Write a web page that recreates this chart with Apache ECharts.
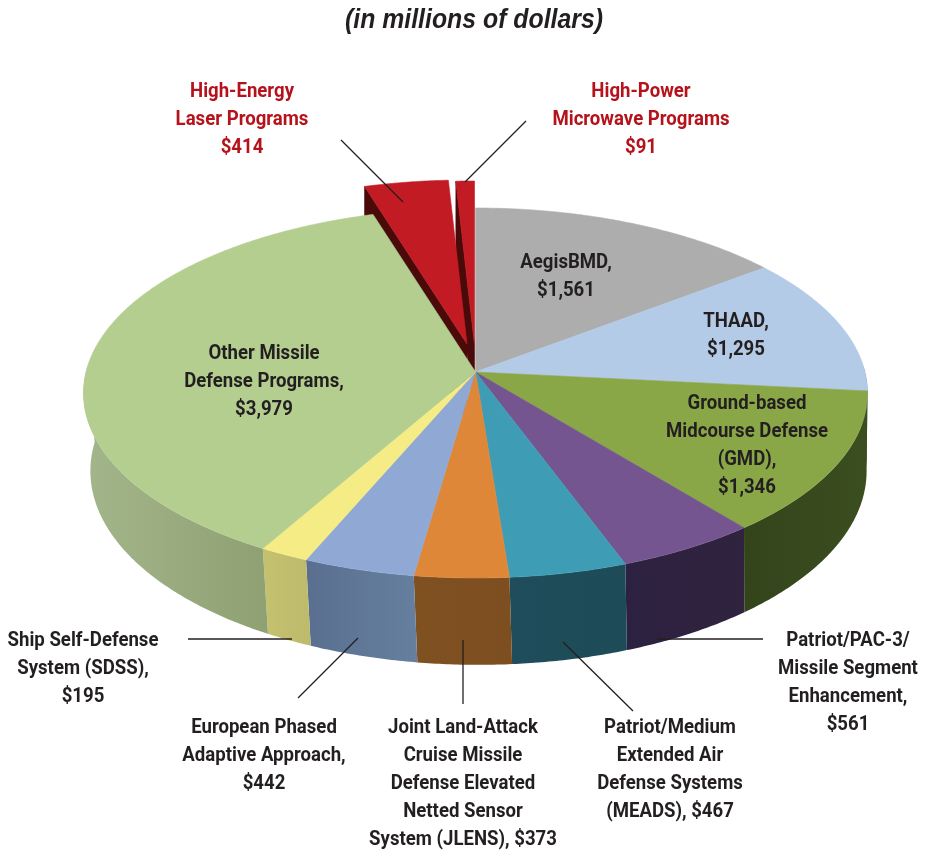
<!DOCTYPE html>
<html>
<head>
<meta charset="utf-8">
<style>html,body{margin:0;padding:0;background:#fff}#c{width:926px;height:851px}</style>
<script src="https://cdn.jsdelivr.net/npm/echarts@6/dist/echarts.min.js"></script>
</head>
<body>
<div id="c"></div>
<script>
// ---- data, clockwise from 12 o'clock ----
var categories = ['AegisBMD','THAAD','Ground-based Midcourse Defense (GMD)','Patriot/PAC-3/Missile Segment Enhancement','Patriot/Medium Extended Air Defense Systems (MEADS)','Joint Land-Attack Cruise Missile Defense Elevated Netted Sensor System (JLENS)','European Phased Adaptive Approach','Ship Self-Defense System (SDSS)','Other Missile Defense Programs','High-Energy Laser Programs','High-Power Microwave Programs'];
var values = [1561,1295,1346,561,467,373,442,195,3979,414,91];
var topColors = ['#adadad','#b3cbe6','#8aa748','#74558f','#3f9cb5','#de8738','#90a9d4','#f5ec85','#b4ce90','#c21b23','#c21b23'];
var wallLeft  = ['#4a5a6a','#4a5a6a','#33441b','#2c2140','#1f4d5b','#7f5020','#5a6f90','#c4c26e','#a3b68b','#4a0a0a','#4a0a0a'];
var wallRight = ['#4a5a6a','#4a5a6a','#3b4e1f','#30233f','#1d4b57','#7d4e20','#667f9f','#bdbb6c','#8fa072','#4a0a0a','#4a0a0a'];
var explodedOffsets = {9:[-8.5,-28],10:[-1,-27]};
var titleText = '(in millions of dollars)';
var labelBlocks = [
 {x:242,y:90,c:'#b5121b',lines:['High-Energy','Laser Programs','$414']},
 {x:641,y:90,c:'#b5121b',lines:['High-Power','Microwave Programs','$91']},
 {x:566,y:261,c:'#231f20',lines:['AegisBMD,','$1,561']},
 {x:736,y:320,c:'#231f20',lines:['THAAD,','$1,295']},
 {x:747,y:402,c:'#231f20',lines:['Ground-based','Midcourse Defense','(GMD),','$1,346']},
 {x:264,y:352,c:'#231f20',lines:['Other Missile','Defense Programs,','$3,979']},
 {x:83,y:639,c:'#231f20',lines:['Ship Self-Defense','System (SDSS),','$195']},
 {x:264,y:726,c:'#231f20',lines:['European Phased','Adaptive Approach,','$442']},
 {x:463,y:726,c:'#231f20',lines:['Joint Land-Attack','Cruise Missile','Defense Elevated','Netted Sensor','System (JLENS), $373']},
 {x:670,y:726,c:'#231f20',lines:['Patriot/Medium','Extended Air','Defense Systems','(MEADS), $467']},
 {x:848,y:639,c:'#231f20',lines:['Patriot/PAC-3/','Missile Segment','Enhancement,','$561']}
];
var leaderLines = [[341,140,403,202],[526,121,465,182],[188,639,292,639],[298,698,358,638],[463,640,463,704],[563,642,633,711],[657,639,763,639]];

// ---- projection of the tilted disc ----
var cx=475.5, cy=372, a=182.6, b=389.5, p=0.1135, depth=77, shrink=0.99, shift=3;
var total=values.reduce(function(s,v){return s+v;},0);
var starts=[]; (function(){var s=0; values.forEach(function(v){starts.push(s/total*360); s+=v;});})();
function proj(deg,low,off,rigid){
  var t=deg*Math.PI/180,u=Math.sin(t),v=-Math.cos(t),w=1-p*v;
  var ox=off?off[0]:0, oy=off?off[1]:0;
  if(!low) return [cx+b*u/w+ox, cy+a*v/w+oy];
  if(rigid) return [cx+b*u/w+ox, cy+a*v/w+depth/w+oy];
  return [cx+shift+shrink*b*u/w+ox, cy+a*v/w+depth/w+oy];
}
function arc(s,e,low,off,rigid){var n=Math.max(2,Math.ceil((e-s)*2)),r=[];for(var i=0;i<=n;i++)r.push(proj(s+(e-s)*i/n,low,off,rigid));return r;}
function poly(points,fill,z2){return {type:'polygon',shape:{points:points},style:{fill:fill,stroke:typeof fill==='string'?fill:null,lineWidth:typeof fill==='string'?0.6:0},silent:true,z2:z2||0};}
function span(i){return [starts[i],starts[i]+values[i]/total*360];}

function renderExploded(params,api){
  var i=params.dataIndex, off=explodedOffsets[i]; if(!off) return null;
  var sp=span(i), A=[cx+off[0],cy+off[1]], B=[cx+off[0],cy+depth+off[1]];
  return {type:'group',children:[
    poly([proj(sp[0],false,off),A,B,proj(sp[0],true,off,true)],'#4a0a0a',1),
    poly([A].concat(arc(sp[0],sp[1],false,off)),topColors[i],2)
  ]};
}
function renderWall(params,api){
  var i=params.dataIndex; if(explodedOffsets[i]) return null;
  var sp=span(i), s=Math.max(sp[0],88), e=Math.min(sp[1],272); if(e<=s) return null;
  var pts=arc(s,e,false).concat(arc(s,e,true).reverse());
  return poly(pts,new echarts.graphic.LinearGradient(0,0,1,0,[{offset:0,color:wallLeft[i]},{offset:1,color:wallRight[i]}]));
}
function renderTop(params,api){
  var i=params.dataIndex; if(explodedOffsets[i]) return null;
  var sp=span(i);
  return poly([[cx,cy]].concat(arc(sp[0],sp[1],false)),topColors[i]);
}

// ---- text and leader lines ----
var FONT='Roboto,"Liberation Sans",sans-serif';
var LH=28.1, graphics=[];
graphics.push({type:'text',x:474,y:21,scaleX:0.92,style:{text:titleText,font:'italic bold 27px "Liberation Sans",sans-serif',fill:'#231f20',align:'center',verticalAlign:'middle'},z:10});
labelBlocks.forEach(function(B){B.lines.forEach(function(t,k){
  graphics.push({type:'text',x:B.x,y:B.y+k*LH+1.5,scaleX:0.93,style:{text:t,font:'bold 20px '+FONT,fill:B.c,align:'center',verticalAlign:'middle'},z:10});
});});
leaderLines.forEach(function(L){graphics.push({type:'line',shape:{x1:L[0],y1:L[1],x2:L[2],y2:L[3]},style:{stroke:'#231f20',lineWidth:1.3},z:11});});

var chart=echarts.init(document.getElementById('c'),null,{renderer:'canvas'});
function seriesOf(fn,z){return {type:'custom',coordinateSystem:'none',renderItem:fn,data:values.map(function(v,i){return {name:categories[i],value:v};}),z:z,silent:true,animation:false,clip:false};}
chart.setOption({
  animation:false,backgroundColor:'#fff',
  series:[seriesOf(renderExploded,1),seriesOf(renderWall,2),seriesOf(renderTop,3)],
  graphic:{elements:graphics}
});
</script>
</body>
</html>
